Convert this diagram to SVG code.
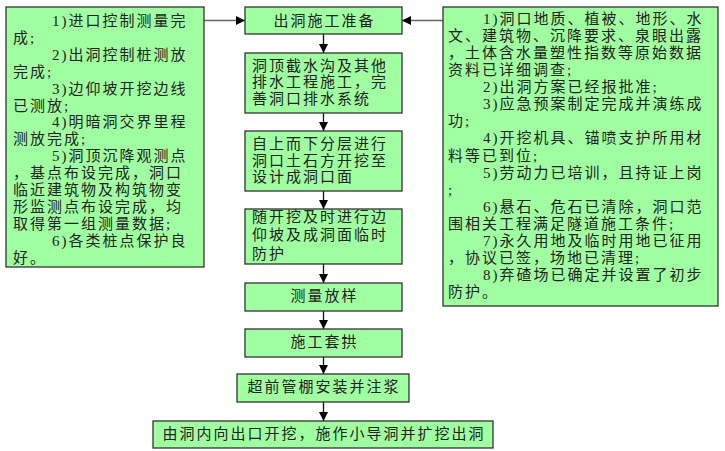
<svg xmlns="http://www.w3.org/2000/svg" width="725" height="451" viewBox="0 0 725 451">
<style>
.box{fill:#A0FFA0;stroke:#333;stroke-width:1.3}
.t{font-family:"Liberation Serif","Noto Sans CJK SC",serif;font-size:15px;letter-spacing:2px;fill:#222}
.c{text-anchor:middle}
.h{stroke:#666;stroke-width:1.5;fill:none}
.v{stroke:#111;stroke-width:1.3;fill:none}
</style>
<defs>
<marker id="ah" viewBox="0 0 10 10" refX="10" refY="5" markerWidth="9" markerHeight="9" markerUnits="userSpaceOnUse" orient="auto">
<path d="M0,0 L10,5 L0,10 z" fill="#000"/>
</marker>
</defs>
<rect width="725" height="451" fill="#fff"/>
<g id="connectors">
<line class="h" x1="204" y1="20.5" x2="245" y2="20.5" marker-end="url(#ah)"/>
<line class="h" x1="443" y1="20.5" x2="402" y2="20.5" marker-end="url(#ah)"/>
<line class="v" x1="323.5" y1="34" x2="323.5" y2="53" marker-end="url(#ah)"/>
<line class="v" x1="323.5" y1="113" x2="323.5" y2="131" marker-end="url(#ah)"/>
<line class="v" x1="323.5" y1="191" x2="323.5" y2="209" marker-end="url(#ah)"/>
<line class="v" x1="323.5" y1="264" x2="323.5" y2="283" marker-end="url(#ah)"/>
<line class="v" x1="323.5" y1="311" x2="323.5" y2="329" marker-end="url(#ah)"/>
<line class="v" x1="323.5" y1="357" x2="323.5" y2="374" marker-end="url(#ah)"/>
<line class="v" x1="323.5" y1="402" x2="323.5" y2="421" marker-end="url(#ah)"/>
</g>
<g id="left">
<rect class="box" x="6" y="7" width="198" height="260"/>
<text class="t">
<tspan x="52" y="26">1)进口控制测量完</tspan>
<tspan x="13" y="42.9">成;</tspan>
<tspan x="52" y="59.8">2)出洞控制桩测放</tspan>
<tspan x="13" y="76.7">完成;</tspan>
<tspan x="52" y="93.6">3)边仰坡开挖边线</tspan>
<tspan x="13" y="110.5">已测放;</tspan>
<tspan x="52" y="127.4">4)明暗洞交界里程</tspan>
<tspan x="13" y="144.3">测放完成;</tspan>
<tspan x="52" y="161.2">5)洞顶沉降观测点</tspan>
<tspan x="13" y="178.1">，基点布设完成，洞口</tspan>
<tspan x="13" y="195">临近建筑物及构筑物变</tspan>
<tspan x="13" y="211.9">形监测点布设完成，均</tspan>
<tspan x="13" y="228.8">取得第一组测量数据;</tspan>
<tspan x="52" y="245.7">6)各类桩点保护良</tspan>
<tspan x="13" y="262.6">好。</tspan>
</text>
</g>
<g id="right">
<rect class="box" x="443" y="7" width="275" height="299"/>
<text class="t">
<tspan x="483" y="23.8">1)洞口地质、植被、地形、水</tspan>
<tspan x="448" y="40.9">文、建筑物、沉降要求、泉眼出露</tspan>
<tspan x="448" y="58">，土体含水量塑性指数等原始数据</tspan>
<tspan x="448" y="75.1">资料已详细调查;</tspan>
<tspan x="483" y="92.2">2)出洞方案已经报批准;</tspan>
<tspan x="483" y="109.3">3)应急预案制定完成并演练成</tspan>
<tspan x="448" y="126.3">功;</tspan>
<tspan x="483" y="143.4">4)开挖机具、锚喷支护所用材</tspan>
<tspan x="448" y="160.5">料等已到位;</tspan>
<tspan x="483" y="177.6">5)劳动力已培训，且持证上岗</tspan>
<tspan x="448" y="194.7">;</tspan>
<tspan x="483" y="211.8">6)悬石、危石已清除，洞口范</tspan>
<tspan x="448" y="228.9">围相关工程满足隧道施工条件;</tspan>
<tspan x="483" y="246">7)永久用地及临时用地已征用</tspan>
<tspan x="448" y="263.1">，协议已签，场地已清理;</tspan>
<tspan x="483" y="280.2">8)弃碴场已确定并设置了初步</tspan>
<tspan x="448" y="297.3">防护。</tspan>
</text>
</g>
<g id="n1">
<rect class="box" x="245" y="7" width="157" height="27"/>
<text class="t c" x="324.5" y="26">出洞施工准备</text>
</g>
<g id="n2">
<rect class="box" x="245" y="53" width="157" height="60"/>
<text class="t"><tspan x="252" y="70.5">洞顶截水沟及其他</tspan><tspan x="252" y="87.3">排水工程施工，完</tspan><tspan x="252" y="104">善洞口排水系统</tspan></text>
</g>
<g id="n3">
<rect class="box" x="245" y="131" width="157" height="60"/>
<text class="t"><tspan x="252" y="148.8">自上而下分层进行</tspan><tspan x="252" y="165.5">洞口土石方开挖至</tspan><tspan x="252" y="182.2">设计成洞口面</tspan></text>
</g>
<g id="n4">
<rect class="box" x="245" y="209" width="157" height="55"/>
<text class="t"><tspan x="252" y="222.2">随开挖及时进行边</tspan><tspan x="252" y="239.5">仰坡及成洞面临时</tspan><tspan x="252" y="258.8">防护</tspan></text>
</g>
<g id="n5">
<rect class="box" x="245" y="283" width="157" height="28"/>
<text class="t c" x="324.5" y="300.5">测量放样</text>
</g>
<g id="n6">
<rect class="box" x="245" y="329" width="157" height="28"/>
<text class="t c" x="324.5" y="346.5">施工套拱</text>
</g>
<g id="n7">
<rect class="box" x="237" y="374" width="172" height="28"/>
<text class="t c" x="324" y="392.2">超前管棚安装并注浆</text>
</g>
<g id="n8">
<rect class="box" x="153" y="421" width="340" height="27"/>
<text class="t c" x="324" y="438.8">由洞内向出口开挖，施作小导洞并扩挖出洞</text>
</g>
</svg>
